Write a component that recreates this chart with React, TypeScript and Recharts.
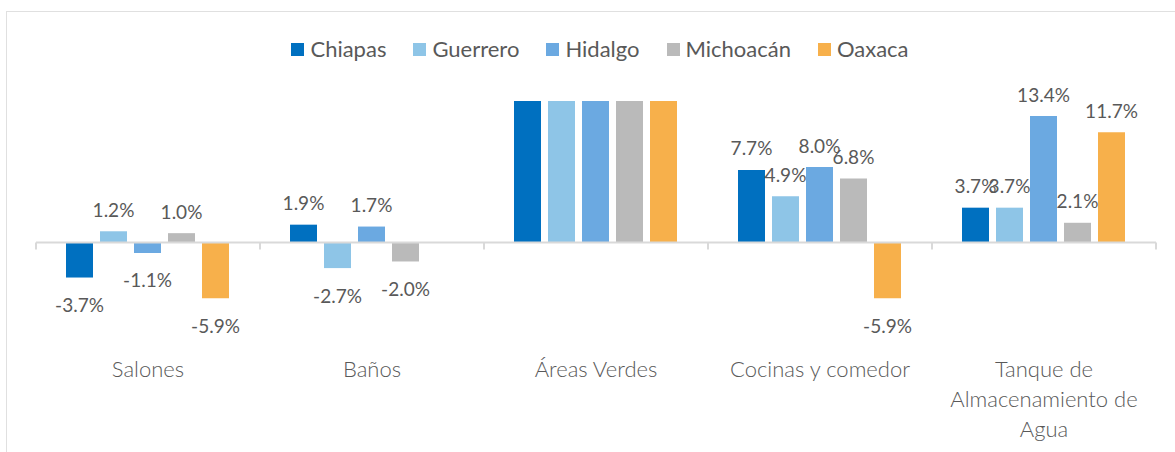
import { BarChart, Bar, XAxis, YAxis, ReferenceLine, LabelList } from 'recharts';

const categories = ['Salones', 'Baños', 'Áreas Verdes', 'Cocinas y comedor', 'Tanque de\nAlmacenamiento de\nAgua'];
const seriesNames = ['Chiapas', 'Guerrero', 'Hidalgo', 'Michoacán', 'Oaxaca'];
const seriesColors = ['#0070C0', '#8EC5E7', '#6BA9E1', '#BABABA', '#F7B04B'];

// Áreas Verdes runs off the top of the axis in the source, so its values are only estimates
const chiapas = [-3.7, 1.9, 100, 7.7, 3.7];
const guerrero = [1.2, -2.7, 100, 4.9, 3.7];
const hidalgo = [-1.1, 1.7, 100, 8.0, 13.4];
const michoacan = [1.0, -2.0, 100, 6.8, 2.1];
const oaxaca = [-5.9, 0.0, 100, -5.9, 11.7];

const seriesValues = [chiapas, guerrero, hidalgo, michoacan, oaxaca];
const yMin = -10;
const yMax = 15;

const FONT = 'Lato, "Open Sans", sans-serif';
const TEXT = '#595959';
const GRID = '#D9D9D9';

const data = categories.map((name, i) => {
  const row: Record<string, string | number> = { name };
  seriesNames.forEach((s, j) => {
    row[s] = seriesValues[j][i];
  });
  return row;
});

function ValueLabel(props: any) {
  const { x, y, width, height, value } = props;
  if (value > yMax || value < yMin) return null;
  const top = Math.min(y, y + height);
  const bottom = Math.max(y, y + height);
  const cy = value >= 0 ? top - 22 : bottom + 27;
  return (
    <text
      x={x + width / 2}
      y={cy}
      textAnchor="middle"
      dominantBaseline="central"
      fill={TEXT}
      fontSize={19}
      fontFamily={FONT}
    >
      {`${Number(value).toFixed(1)}%`}
    </text>
  );
}

function CategoryTick(props: any) {
  const { x, y, payload } = props;
  const lines = String(payload.value).split('\n');
  return (
    <g>
      {lines.map((line, i) => (
        <text
          key={i}
          x={x}
          y={y + 31 + i * 30}
          textAnchor="middle"
          dominantBaseline="central"
          fill={TEXT}
          fontSize={22}
          fontFamily={FONT}
          fontWeight={300}
        >
          {line}
        </text>
      ))}
    </g>
  );
}

function ZeroAxis(props: any) {
  const { x1, x2, y1 } = props;
  const step = (x2 - x1) / categories.length;
  return (
    <g>
      <line x1={x1} x2={x2} y1={y1} y2={y1} stroke={GRID} strokeWidth={2} />
      {categories.map((_, i) => (
        <line key={i} x1={x1 + i * step} x2={x1 + i * step} y1={y1} y2={y1 + 7} stroke={GRID} strokeWidth={2} />
      ))}
      <line x1={x2} x2={x2} y1={y1} y2={y1 + 7} stroke={GRID} strokeWidth={2} />
    </g>
  );
}

function Legend() {
  return (
    <div
      style={{
        position: 'absolute',
        left: 0,
        width: 1200,
        top: 37,
        display: 'flex',
        justifyContent: 'center',
        gap: 27,
        fontFamily: FONT,
        fontSize: 22,
        color: TEXT,
        lineHeight: '24px',
      }}
    >
      {seriesNames.map((s, i) => (
        <div key={s} style={{ display: 'flex', alignItems: 'center' }}>
          <span style={{ width: 13, height: 13, background: seriesColors[i], marginRight: 6, display: 'inline-block' }} />
          <span>{s}</span>
        </div>
      ))}
    </div>
  );
}

export default function App() {
  return (
    <div style={{ position: 'fixed', left: 0, top: 0, width: 1175, height: 452, overflow: 'hidden', background: '#fff' }}>
      <div
        style={{
          position: 'absolute',
          left: 6,
          top: 11,
          width: 1200,
          height: 500,
          border: '1.5px solid #E0E0E0',
        }}
      />
      <div style={{ position: 'absolute', left: 0, top: 0 }}>
        <BarChart
          width={1175}
          height={452}
          data={data}
          margin={{ top: 101, right: 19, bottom: 85, left: 36 }}
          barCategoryGap={30}
          barGap={7}
        >
          <XAxis
            dataKey="name"
            axisLine={false}
            tickLine={false}
            tickSize={0}
            tickMargin={0}
            height={30}
            interval={0}
            tick={<CategoryTick />}
          />
          <YAxis hide domain={[yMin, yMax]} allowDataOverflow />
          <ReferenceLine y={0} shape={<ZeroAxis />} />
          {seriesNames.map((s, i) => (
            <Bar key={s} dataKey={s} fill={seriesColors[i]} isAnimationActive={false}>
              <LabelList dataKey={s} content={<ValueLabel />} />
            </Bar>
          ))}
        </BarChart>
      </div>
      <Legend />
    </div>
  );
}
